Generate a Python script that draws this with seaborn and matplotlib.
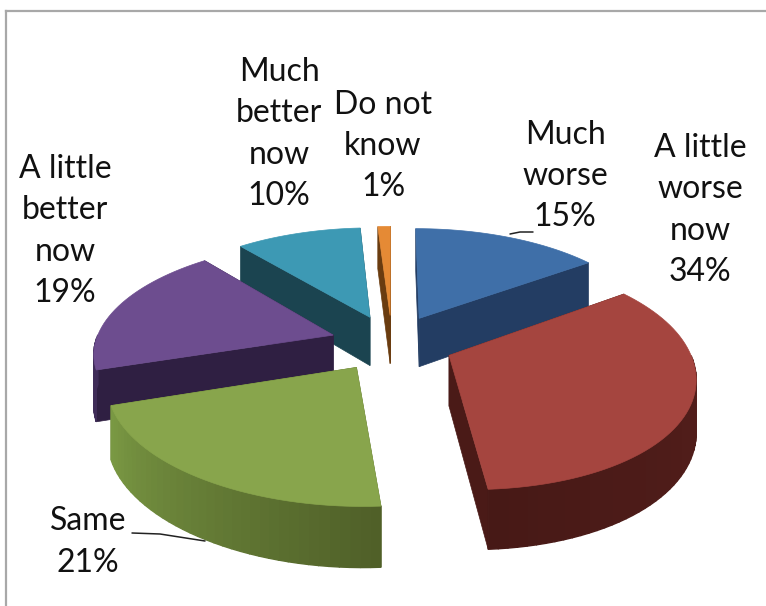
import numpy as np
import matplotlib
matplotlib.use("Agg")
import matplotlib.pyplot as plt
import matplotlib.colors as mc
import seaborn as sns

categories = ["Much\nworse", "A little\nworse\nnow", "Same", "A little\nbetter\nnow", "Much\nbetter\nnow", "Do not\nknow"]
values = [15, 34, 21, 19, 10, 1]
top_colors = ["#3f6fa8", "#a5453f", "#88a54c", "#6d4d8f", "#3d99b4", "#e58a35"]
wall_colors = ["#233d63", "#4a1a17", "#536229", "#2f1f42", "#1b4450", "#6a3c10"]
arc_start = ["#2f5380", "#5a211e", "#7b9a44", "#3f2c58", "#245b6b", "#a5621f"]
arc_end = ["#23405f", "#471916", "#4f5f28", "#3f2c58", "#245b6b", "#a5621f"]
draw_order = [5, 4, 0, 3, 1, 2]
label_pos = [(565, 176), (700, 210), (88, 542), (65, 231), (279, 134), (383, 146)]
leaders = {0: ((510, 234), (520, 232), (533, 232)), 2: ((132, 533), (160, 534), (205, 541))}

CX, CY, S, CS, K, E, D, A = 392, 343, 238, 110, 0.15, 0.26, 50, 9


def project(x, y, drop=0.0):
    x, y = np.asarray(x, float), np.asarray(y, float)
    w = 1 + K * y
    return CX + S * x / w + A * np.minimum(y, 0) ** 2, CY - CS * y / w + drop / w


sns.set_theme(style="white")
plt.rcParams["font.family"] = ["Lato", "DejaVu Sans"]
fig = plt.figure(figsize=(7.66, 6.06), dpi=100, facecolor="white")
ax = fig.add_axes([6 / 766, 0, 760 / 766, 595 / 606])
ax.set_xlim(6, 766)
ax.set_ylim(606, 11)
ax.set_xticks([])
ax.set_yticks([])
sns.despine(ax=ax, top=False, left=False, right=True, bottom=True)
for side in ("top", "left"):
    ax.spines[side].set_color("#a8a8a8")
    ax.spines[side].set_linewidth(1.6)

edges = np.deg2rad(np.concatenate([[0], np.cumsum(values)]) * 3.6)

for i in draw_order:
    t0, t1 = edges[i], edges[i + 1]
    mid = (t0 + t1) / 2
    ox, oy = E * np.sin(mid), E * np.cos(mid)
    th = np.linspace(t0, t1, max(int(np.degrees(t1 - t0) / 2), 3) + 1)
    rx, ry = ox + np.sin(th), oy + np.cos(th)

    for t in (t0, t1):
        ex, ey = ox + np.sin(t), oy + np.cos(t)
        pts = [project(ox, oy), project(ex, ey), project(ex, ey, D), project(ox, oy, D)]
        ax.fill(*zip(*pts), color=wall_colors[i], lw=0.5, zorder=2)

    c0, c1 = np.array(mc.to_rgb(arc_start[i])), np.array(mc.to_rgb(arc_end[i]))
    n = len(th) - 1
    front = [j for j in range(n) if np.cos(th[j]) + np.cos(th[j + 1]) < 0]
    for j in front:
        f = (j + 0.5) / n
        col = c0 + (c1 - c0) * (f if i == 1 else 1 - f)
        pts = [project(rx[j], ry[j]), project(rx[j + 1], ry[j + 1]),
               project(rx[j + 1], ry[j + 1], D), project(rx[j], ry[j], D)]
        ax.fill(*zip(*pts), color=col, lw=1.0, zorder=2)

    tx, ty = project(np.r_[ox, rx], np.r_[oy, ry])
    ax.fill(tx, ty, color=top_colors[i], lw=0.5, zorder=3)

for i, (name, val) in enumerate(zip(categories, values)):
    ax.text(*label_pos[i], f"{name}\n{val}%", ha="center", va="center", fontsize=23,
            color="#111111", linespacing=1.47, zorder=5)

for pts in leaders.values():
    ax.plot(*zip(*pts), color="#222222", lw=1.1, zorder=4)

fig.savefig("out.png", dpi=100)
